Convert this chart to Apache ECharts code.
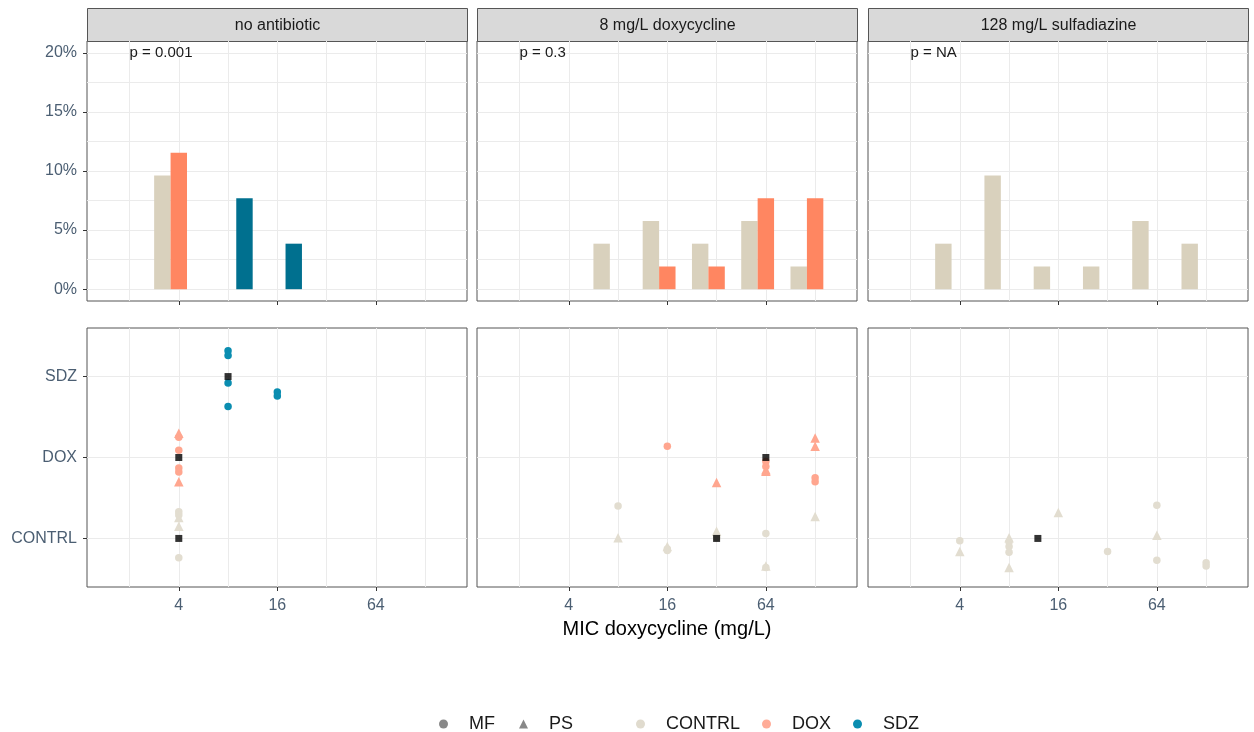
<!DOCTYPE html>
<html>
<head>
<meta charset="utf-8">
<script src="https://cdn.jsdelivr.net/npm/echarts@6/dist/echarts.min.js"></script>
<style>
html,body{margin:0;padding:0;background:#fff;}
#chart{width:1254px;height:732px;}
</style>
</head>
<body>
<div id="chart"></div>
<script>
// ---------------- DATA ----------------
const panels = ['no antibiotic', '8 mg/L doxycycline', '128 mg/L sulfadiazine'];
const pLabels = ['p = 0.001', 'p = 0.3', 'p = NA'];
const groups = ['CONTRL', 'DOX', 'SDZ'];
const shapes = ['MF', 'PS'];
const xMajorTicks = [4, 16, 64];
const xMinorTicks = [2, 8, 32, 128];
const yPctTicks = [0, 5, 10, 15, 20];
const yPctMinor = [2.5, 7.5, 12.5, 17.5];

// bar heights (% of isolates) : [MIC, percent]
const barsNoAb_CONTRL = [[4, 9.62]];
const barsNoAb_DOX = [[4, 11.54]];
const barsNoAb_SDZ = [[8, 7.69], [16, 3.85]];
const barsDox_CONTRL = [[8, 3.85], [16, 5.77], [32, 3.85], [64, 5.77], [128, 1.92]];
const barsDox_DOX = [[16, 1.92], [32, 1.92], [64, 7.69], [128, 7.69]];
const barsDox_SDZ = [];
const barsSdz_CONTRL = [[4, 3.85], [8, 9.62], [16, 1.92], [32, 1.92], [64, 5.77], [128, 3.85]];
const barsSdz_DOX = [];
const barsSdz_SDZ = [];

// jittered isolate points : [MIC, group position (1=CONTRL,2=DOX,3=SDZ) + jitter]
const ptsNoAb_CONTRL_MF = [[4, 1.33], [4, 1.29], [4, 0.76]];
const ptsNoAb_CONTRL_PS = [[4, 1.26], [4, 1.15]];
const ptsNoAb_DOX_MF = [[4, 2.25], [4, 2.09], [4, 1.87], [4, 1.82]];
const ptsNoAb_DOX_PS = [[4, 2.30], [4, 1.70]];
const ptsNoAb_SDZ_MF = [[8, 3.32], [8, 3.26], [8, 2.92], [8, 2.63], [16, 2.81], [16, 2.76]];
const ptsNoAb_SDZ_PS = [];
const ptsDox_CONTRL_MF = [[8, 1.40], [16, 0.87], [16, 0.85], [32, 1.01], [64, 1.06], [64, 0.64]];
const ptsDox_CONTRL_PS = [[8, 1.01], [16, 0.90], [32, 1.09], [64, 0.66], [128, 1.27]];
const ptsDox_DOX_MF = [[16, 2.14], [64, 1.95], [64, 1.89], [128, 1.75], [128, 1.70]];
const ptsDox_DOX_PS = [[32, 1.69], [64, 1.85], [64, 1.83], [128, 2.24], [128, 2.14]];
const ptsSdz_CONTRL_MF = [[4, 0.97], [8, 0.96], [8, 0.90], [8, 0.83], [32, 0.84], [64, 1.41], [64, 0.73], [128, 0.70], [128, 0.66]];
const ptsSdz_CONTRL_PS = [[4, 0.84], [8, 1.01], [8, 0.64], [16, 1.32], [64, 1.04]];

// group medians (black squares): [MIC, group position]
const mediansNoAb = [[4, 1], [4, 2], [8, 3]];
const mediansDox = [[32, 1], [64, 2]];
const mediansSdz = [[12, 1]];

// ---------------- STYLE ----------------
const FONT = '"Liberation Sans", Arial, Helvetica, sans-serif';
const barColors = {CONTRL: '#D9D1BD', DOX: '#FF8661', SDZ: '#00708F'};
const ptColors = {CONTRL: '#E2DDD0', DOX: '#FFA68F', SDZ: '#0A8DB0'};
const groupOffset = {CONTRL: -1 / 3, DOX: 0, SDZ: 1 / 3};
const BAR_W = 1 / 3;
const TICK_COLOR = '#4B5E72';
const GRID_COLOR = '#EBEBEB';
const X_MIN = 0.137, X_MAX = 7.85;

const panelLeft = [87, 477, 868];
const panelWidth = 380;
const topRow = {top: 41, height: 260};
const botRow = {top: 328, height: 259};

const barsByPanel = [
  {CONTRL: barsNoAb_CONTRL, DOX: barsNoAb_DOX, SDZ: barsNoAb_SDZ},
  {CONTRL: barsDox_CONTRL, DOX: barsDox_DOX, SDZ: barsDox_SDZ},
  {CONTRL: barsSdz_CONTRL, DOX: barsSdz_DOX, SDZ: barsSdz_SDZ}
];
const ptsByPanel = [
  {CONTRL: {MF: ptsNoAb_CONTRL_MF, PS: ptsNoAb_CONTRL_PS}, DOX: {MF: ptsNoAb_DOX_MF, PS: ptsNoAb_DOX_PS}, SDZ: {MF: ptsNoAb_SDZ_MF, PS: ptsNoAb_SDZ_PS}},
  {CONTRL: {MF: ptsDox_CONTRL_MF, PS: ptsDox_CONTRL_PS}, DOX: {MF: ptsDox_DOX_MF, PS: ptsDox_DOX_PS}},
  {CONTRL: {MF: ptsSdz_CONTRL_MF, PS: ptsSdz_CONTRL_PS}}
];
const mediansByPanel = [mediansNoAb, mediansDox, mediansSdz];

const lg = v => Math.log2(v);

// ---------------- OPTION ----------------
const grid = [], xAxis = [], yAxis = [], series = [], graphic = [];

for (let p = 0; p < 3; p++) {
  for (let row = 0; row < 2; row++) {
    const gi = 2 * p + row;
    const r = row === 0 ? topRow : botRow;
    grid.push({left: panelLeft[p], top: r.top, width: panelWidth, height: r.height,
      show: true, borderColor: '#555', borderWidth: 1, backgroundColor: 'transparent', containLabel: false});
    xAxis.push({
      gridIndex: gi, type: 'value', min: X_MIN, max: X_MAX, position: 'bottom',
      axisLine: {show: false, onZero: false},
      axisTick: {show: true, length: 4, customValues: xMajorTicks.map(lg), lineStyle: {color: '#333', width: 1}},
      axisLabel: {show: row === 1, customValues: xMajorTicks.map(lg), formatter: v => String(Math.round(Math.pow(2, v))),
        color: TICK_COLOR, fontFamily: FONT, fontSize: 16, margin: 11},
      splitLine: {show: true, lineStyle: {color: GRID_COLOR, width: 1}},
      name: (row === 1 && p === 1) ? 'MIC doxycycline (mg/L)' : '',
      nameLocation: 'middle', nameGap: 32,
      nameTextStyle: {color: '#000', fontFamily: FONT, fontSize: 20}
    });
    xAxis.push({
      gridIndex: gi, type: 'value', min: X_MIN, max: X_MAX, position: 'top',
      axisLine: {show: false, onZero: false},
      axisTick: {show: false, customValues: xMinorTicks.map(lg)},
      axisLabel: {show: false, customValues: xMinorTicks.map(lg)},
      splitLine: {show: true, lineStyle: {color: GRID_COLOR, width: 1}}
    });
    if (row === 0) {
      yAxis.push({
        gridIndex: gi, type: 'value', min: -1, max: 21, position: 'left',
        axisLine: {show: false, onZero: false},
        axisTick: {show: p === 0, length: 4, customValues: yPctTicks, lineStyle: {color: '#333'}},
        axisLabel: {show: p === 0, customValues: yPctTicks, formatter: v => v + '%', color: TICK_COLOR, fontFamily: FONT, fontSize: 16, margin: 10},
        splitLine: {show: true, lineStyle: {color: GRID_COLOR, width: 1}}
      });
      yAxis.push({
        gridIndex: gi, type: 'value', min: -1, max: 21, position: 'right',
        axisLine: {show: false, onZero: false},
        axisTick: {show: false, customValues: yPctMinor},
        axisLabel: {show: false, customValues: yPctMinor},
        splitLine: {show: true, lineStyle: {color: GRID_COLOR, width: 1}}
      });
    } else {
      yAxis.push({
        gridIndex: gi, type: 'value', min: 0.4, max: 3.6, position: 'left',
        axisLine: {show: false, onZero: false},
        axisTick: {show: p === 0, length: 4, customValues: [1, 2, 3], lineStyle: {color: '#333'}},
        axisLabel: {show: p === 0, customValues: [1, 2, 3], formatter: v => groups[Math.round(v) - 1], color: TICK_COLOR, fontFamily: FONT, fontSize: 16, margin: 10},
        splitLine: {show: true, lineStyle: {color: GRID_COLOR, width: 1}}
      });
      yAxis.push({
        gridIndex: gi, type: 'value', min: 0.4, max: 3.6, position: 'right',
        axisLine: {show: false, onZero: false}, axisTick: {show: false}, axisLabel: {show: false}, splitLine: {show: false}
      });
    }
    const xi = 2 * gi, yi = 2 * gi;

    if (row === 0) {
      groups.forEach(g => {
        const data = (barsByPanel[p][g] || []).map(d => [lg(d[0]) + groupOffset[g], d[1]]);
        if (!data.length) return;
        series.push({
          type: 'custom', name: g + ' bars', xAxisIndex: xi, yAxisIndex: yi, z: 3,
          itemStyle: {color: barColors[g]},
          encode: {x: 0, y: 1},
          data: data,
          renderItem: function (params, api) {
            const x = api.value(0), y = api.value(1);
            const a = api.coord([x - BAR_W / 2, y]);
            const b = api.coord([x + BAR_W / 2, 0]);
            return {type: 'rect', shape: {x: a[0], y: a[1], width: b[0] - a[0], height: b[1] - a[1]},
              style: {fill: barColors[g]}};
          }
        });
      });
      series.push({
        type: 'custom', name: 'p' + p, xAxisIndex: xi, yAxisIndex: yi, z: 5,
        data: [[lg(2), 20]],
        renderItem: function (params, api) {
          const c = api.coord([api.value(0), api.value(1)]);
          return {type: 'text', x: c[0], y: c[1],
            style: {text: pLabels[p], fill: '#1A1A1A', font: '15px ' + FONT, textAlign: 'left', textVerticalAlign: 'middle'}};
        }
      });
    } else {
      const pg = ptsByPanel[p];
      Object.keys(pg).forEach(g => {
        shapes.forEach(s => {
          const arr = pg[g][s];
          if (!arr || !arr.length) return;
          series.push({
            type: 'scatter', name: g, xAxisIndex: xi, yAxisIndex: yi, z: 4,
            symbol: s === 'MF' ? 'circle' : 'triangle',
            symbolSize: s === 'MF' ? 7.5 : 9.5,
            itemStyle: {color: ptColors[g], opacity: 1},
            data: arr.map(d => [lg(d[0]), d[1]])
          });
        });
      });
      series.push({
        type: 'scatter', name: 'median', xAxisIndex: xi, yAxisIndex: yi, z: 6,
        symbol: 'rect', symbolSize: 7,
        itemStyle: {color: '#000'},
        data: mediansByPanel[p].map(d => [lg(d[0]), d[1]])
      });
    }
  }
  graphic.push({
    type: 'group', left: panelLeft[p], top: 8,
    children: [
      {type: 'rect', shape: {x: 0, y: 0, width: panelWidth, height: 33}, style: {fill: '#D9D9D9', stroke: '#555', lineWidth: 1}},
      {type: 'text', x: panelWidth / 2, y: 17, style: {text: panels[p], fill: '#1A1A1A', font: '16px ' + FONT, textAlign: 'center', textVerticalAlign: 'middle'}}
    ]
  });
}

series.push({type: 'scatter', name: 'MF', data: [], xAxisIndex: 0, yAxisIndex: 0, symbol: 'circle', itemStyle: {color: '#6A6A6A'}});
series.push({type: 'scatter', name: 'PS', data: [], xAxisIndex: 0, yAxisIndex: 0, symbol: 'triangle', itemStyle: {color: '#6A6A6A'}});

const legendText = {color: '#1A1A1A', fontFamily: FONT, fontSize: 18, padding: [0, 0, 0, 16]};
const option = {
  backgroundColor: '#fff',
  animation: false,
  grid, xAxis, yAxis, series, graphic,
  legend: [
    {left: 434, top: 710, orient: 'horizontal', itemWidth: 9, itemHeight: 9, itemGap: 24, selectedMode: false,
      textStyle: legendText,
      data: [
        {name: 'MF', icon: 'circle', itemStyle: {color: '#6A6A6A'}},
        {name: 'PS', icon: 'triangle', itemStyle: {color: '#6A6A6A'}}
      ]},
    {left: 631, top: 710, orient: 'horizontal', itemWidth: 9, itemHeight: 9, itemGap: 22, selectedMode: false,
      textStyle: legendText,
      data: [
        {name: 'CONTRL', icon: 'circle', itemStyle: {color: '#E0DBCE'}},
        {name: 'DOX', icon: 'circle', itemStyle: {color: '#FFAC98'}},
        {name: 'SDZ', icon: 'circle', itemStyle: {color: '#0A8DB0'}}
      ]}
  ]
};

const chart = echarts.init(document.getElementById('chart'), null, {renderer: 'canvas'});
chart.setOption(option);
</script>
</body>
</html>
